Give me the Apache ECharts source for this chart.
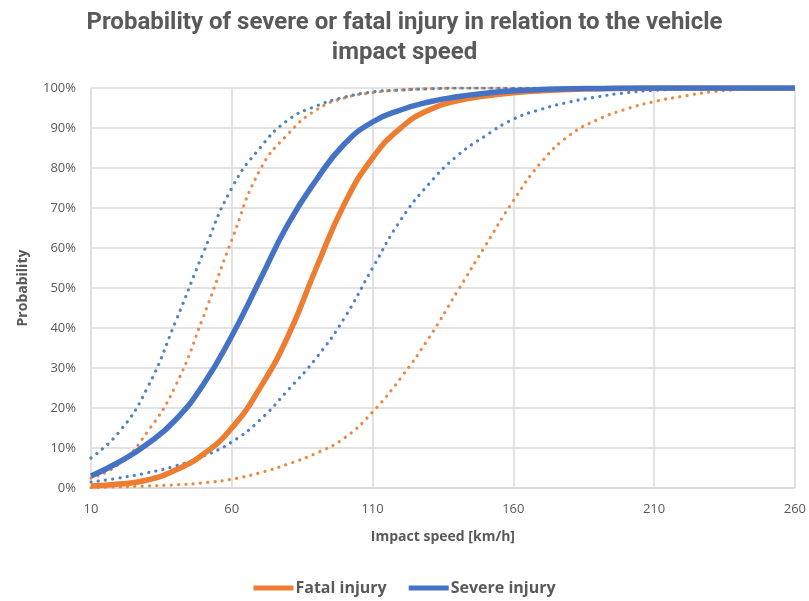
<!DOCTYPE html>
<html lang="en">

	<head>
		<meta charset="utf-8">
		<title>Probability of severe or fatal injury</title>
		<script src="https://cdn.jsdelivr.net/npm/echarts@6.0.0/dist/echarts.min.js"></script>
		<style>
			html,body{
				margin: 0;
				padding: 0;
				background-color: white;
			}
			#chart{
				width: 809px;
				height: 601px;
			}
		</style>
	</head>

	<body>
		<div id="chart"></div>
	</body>

	<script>
		// impact speed (km/h) and probability (%)
		var speeds=[10,20,30,40,50,60,70,80,90,100,110,120,130,140,150,160,170,180,190,200,210,220,230,240,250,260];
		var fatal=[0.5,1,2,4.5,8.5,15,25,38,55,71,82.5,90,94.5,96.8,98,98.8,99.3,99.6,99.8,99.9,100,100,100,100,100,100];
		var severe=[3,6.5,11,17,26,38,52,66,77,86,91.5,94.5,96.5,97.8,98.7,99.3,99.6,99.8,99.9,100,100,100,100,100,100,100];
		var fatalUpper=[2.5,6,14,25.5,43,62,79.5,88.5,94.5,97.5,98.8,99.5,99.8,100,100,100,100,100,100,100,100,100,100,100,100,100];
		var fatalLower=[0.1,0.3,0.5,0.8,1.3,2.2,3.8,6,8.7,12.5,19,27.5,37.5,49,60.5,71.8,81.5,88.2,92.1,94.7,96.6,97.9,99,99.6,99.9,100];
		var severeUpper=[7.5,14,25,41.5,59,75,85,92,95.5,97.7,99,99.5,99.8,100,100,100,100,100,100,100,100,100,100,100,100,100];
		var severeLower=[1.5,2.5,3.8,5.5,8,11.5,17,24.5,32.5,42.5,55,67,76,83,88,92.2,94.7,96.5,97.8,98.8,99.4,99.7,99.9,100,100,100];
		var xTicks=[10,60,110,160,210,260];
		var yTicks=[0,10,20,30,40,50,60,70,80,90,100];

		var ORANGE="#ED7D31";
		var BLUE="#4472C4";
		var TXT="#595959";
		var GRID="#D9D9D9";

		// x axis starts at 10, so shift by 10 to keep ticks on multiples of 50
		var x0=xTicks[0];
		function pairs(arr){
			var out=[];
			for(var i=0;i<speeds.length;i++){
				out.push([speeds[i]-x0,arr[i]]);
			}
			return out;
		}

		function dotted(name,arr,color){
			return {
				name:name,
				type:'line',
				data:pairs(arr),
				smooth:0.5,
				symbol:'none',
				lineStyle:{color:color,width:3.2,type:[0.1,7.2],cap:'round'},
				itemStyle:{color:color},
				z:2
			};
		}
		function solid(name,arr,color){
			return {
				name:name,
				type:'line',
				data:pairs(arr),
				smooth:0.5,
				symbol:'none',
				lineStyle:{color:color,width:5.5},
				itemStyle:{color:color},
				z:3
			};
		}

		var option={
			animation:false,
			backgroundColor:'#ffffff',
			title:{
				text:'Probability of severe or fatal injury in relation to the vehicle\nimpact speed',
				left:'center',
				top:3,
				textStyle:{
					fontFamily:'Roboto',
					fontWeight:'bold',
					fontSize:24,
					lineHeight:30,
					color:TXT
				}
			},
			legend:{
				data:['Fatal injury','Severe injury'],
				bottom:0,
				left:'center',
				icon:'rect',
				itemWidth:40,
				itemHeight:5,
				itemGap:22,
				textStyle:{fontFamily:'Open Sans',fontWeight:'bold',fontSize:16,color:TXT,padding:[0,0,0,-3]}
			},
			grid:{left:91,right:14,top:88,bottom:113,containLabel:false},
			xAxis:{
				type:'value',
				min:0,
				max:xTicks[xTicks.length-1]-x0,
				interval:xTicks[1]-xTicks[0],
				name:'Impact speed [km/h]',
				nameLocation:'middle',
				nameGap:42,
				nameTextStyle:{fontFamily:'Open Sans',fontWeight:'bold',fontSize:14,color:TXT},
				axisLine:{show:true,lineStyle:{color:GRID,width:1.5}},
				axisTick:{show:false},
				axisLabel:{
					margin:15,
					fontFamily:'Open Sans',
					fontSize:13,
					color:TXT,
					formatter:function(v){return (v+x0)+'';}
				},
				splitLine:{show:true,lineStyle:{color:GRID,width:1.5}}
			},
			yAxis:{
				type:'value',
				min:yTicks[0],
				max:yTicks[yTicks.length-1],
				interval:yTicks[1]-yTicks[0],
				name:'Probability',
				nameLocation:'middle',
				nameGap:61,
				nameTextStyle:{fontFamily:'Open Sans',fontWeight:'bold',fontSize:14,color:TXT},
				axisLine:{show:false},
				axisTick:{show:false},
				axisLabel:{margin:15,fontFamily:'Open Sans',fontSize:13,color:TXT,formatter:'{value}%'},
				splitLine:{show:true,lineStyle:{color:GRID,width:1.5}}
			},
			series:[
				dotted('Fatal upper',fatalUpper,'#EE8844'),
				dotted('Fatal lower',fatalLower,'#EE8844'),
				dotted('Severe upper',severeUpper,'#5287B2'),
				dotted('Severe lower',severeLower,'#4D7FD2'),
				solid('Fatal injury',fatal,ORANGE),
				solid('Severe injury',severe,BLUE)
			]
		};

		var myChart=echarts.init(document.getElementById('chart'));
		myChart.setOption(option);
	</script>
</html>
